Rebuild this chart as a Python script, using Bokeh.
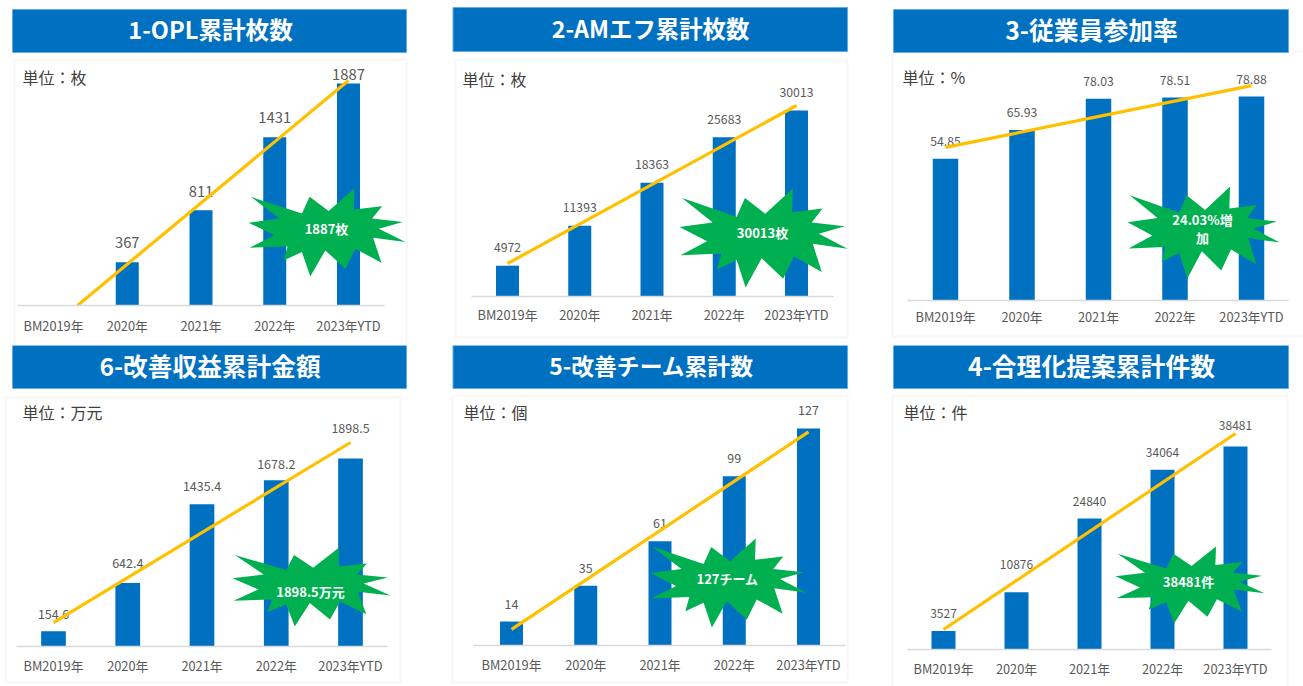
from bokeh.embed import file_html
from bokeh.resources import INLINE
from bokeh.layouts import column, row
from bokeh.models import BoxAnnotation, FixedTicker, Range1d
from bokeh.plotting import figure
from bokeh.core.properties import value

# Category labels shared by every chart
categories = ["BM2019年", "2020年", "2021年", "2022年", "2023年YTD"]

# Yearly totals per chart
opl_values = [None, 367, 811, 1431, 1887]
am_values = [4972, 11393, 18363, 25683, 30013]
participation_values = [54.85, 65.93, 78.03, 78.51, 78.88]
saving_values = [154.6, 642.4, 1435.4, 1678.2, 1898.5]
team_values = [14, 35, 61, 99, 127]
proposal_values = [3527, 10876, 24840, 34064, 38481]

# Start and end of each trend line; the OPL line rises from the baseline
opl_trend = [0, 1913]
am_trend = [5323, 30806]
participation_trend = [59.2, 83.1]
saving_trend = [242, 2060]
team_trend = [9.4, 125]
proposal_trend = [3790, 40950]

# Outline of the starburst callout, relative to its bounding box
BURST = [(752, 590), (905, 640), (928, 590), (985, 632), (1062, 565), (1060, 628),
         (1145, 618), (1115, 655), (1207, 665), (1135, 685), (1215, 725), (1118, 712),
         (1143, 787), (1065, 745), (1035, 805), (975, 750), (930, 828), (905, 755),
         (850, 780), (862, 738), (748, 742), (822, 705), (745, 667), (838, 655)]

FONT = "Noto Sans CJK JP"
BLUE = "#0070C0"
GREY_TEXT = "#595959"

ROW_H = [345, 341]
COL_W = [440, 440, 423]
COL_X = [0, 440, 880]
ROW_Y = [0, 345]

panels = [
    dict(cell=(0, 0), title="1-OPL累計枚数", title_px=23.6, unit="単位：枚", values=opl_values, trend=opl_trend,
         trend_x=(0.325, 4),
         banner=(12, 406, 9, 52), title_c=(210, 30), box=(14, 406, 59, 350), unit_xy=(23, 78),
         axis_y=305, axis_x=(17, 384), ctr=(53, 348), bar_w=23, px_per=0.1176, tick_off=21, label_px=14.8,
         offs=[0, 19, 18, 19, 8], burst=(248, 405, 188, 276),
         burst_text=[("1887枚", 326, 229)]),
    dict(cell=(1, 0), title="2-AMエフ累計枚数", title_px=23.4, unit="単位：枚", values=am_values, trend=am_trend,
         trend_x=(0, 4),
         banner=(452.5, 847, 7, 51), title_c=(650, 29), box=(455, 847, 60, 337), unit_xy=(463, 80),
         axis_y=296, axis_x=(471, 833), ctr=(507, 796), bar_w=23, px_per=0.0062, tick_off=19, label_px=12.2,
         offs=[17, 17, 17, 17, 17], burst=(679, 847, 188, 287),
         burst_text=[("30013枚", 762, 233)]),
    dict(cell=(2, 0), title="3-従業員参加率", title_px=24.8, unit="単位：%", values=participation_values,
         trend=participation_trend, trend_x=(0, 4),
         banner=(893, 1288, 9, 52), title_c=(1091, 30), box=(892, 1310, 51, 336), unit_xy=(903, 78),
         axis_y=300, axis_x=(907, 1288), ctr=(945, 1251), bar_w=25.5, px_per=2.586, tick_off=17, label_px=12.2,
         offs=[16, 17, 16, 16, 16], burst=(1127, 1279, 186, 278),
         burst_text=[("24.03%増", 1202, 220), ("加", 1202, 238)]),
    dict(cell=(0, 1), title="6-改善収益累計金額", title_px=24.7, unit="単位：万元", values=saving_values, trend=saving_trend,
         trend_x=(0, 4),
         banner=(12, 406, 345, 388), title_c=(209.5, 366), box=(5, 400, 397, 682), unit_xy=(23, 413),
         axis_y=646, axis_x=(16, 387), ctr=(53, 350), bar_w=24.7, px_per=0.09903, tick_off=20, label_px=12.5,
         offs=[16, 19, 17, 15, 29], burst=(232, 390, 547, 626),
         burst_text=[("1898.5万元", 310, 592)]),
    dict(cell=(1, 1), title="5-改善チーム累計数", title_px=22.8, unit="単位：個", values=team_values, trend=team_trend,
         trend_x=(0, 4),
         banner=(452.5, 847, 345, 388), title_c=(651, 366), box=(452, 847, 395, 682), unit_xy=(464, 413),
         axis_y=645, axis_x=(473, 845), ctr=(511, 808), bar_w=23, px_per=1.709, tick_off=20, label_px=12.5,
         offs=[17, 17, 17, 17, 17], burst=(650, 806, 538, 627),
         burst_text=[("127チーム", 727, 579)]),
    dict(cell=(2, 1), title="4-合理化提案累計件数", title_px=24.8, unit="単位：件", values=proposal_values, trend=proposal_trend,
         trend_x=(0, 4),
         banner=(893, 1288, 345, 388), title_c=(1091, 366), box=(892, 1287, 395, 700), unit_xy=(904, 413),
         axis_y=649, axis_x=(907, 1271), ctr=(943, 1235), bar_w=24, px_per=0.005275, tick_off=20, label_px=12,
         offs=[16, 27, 16, 16, 20], burst=(1115, 1264, 546, 623),
         burst_text=[("38481件", 1188, 582)]),
]


def build(cfg):
    col, rw = cfg["cell"]
    ox, oy = COL_X[col], ROW_Y[rw]
    width, cell_h = COL_W[col], ROW_H[rw]
    base_h = cfg["axis_y"] - oy
    per = cfg["px_per"]

    # The frame fills the whole cell, with value 0 sitting on the axis line
    step = (cfg["ctr"][1] - cfg["ctr"][0]) / 4
    c0 = cfg["ctr"][0] - ox
    x_range = Range1d(-c0 / step, (width - c0) / step)
    y_range = Range1d(-(cell_h - base_h) / per, base_h / per)

    def dx(px):
        return (px - ox - c0) / step

    def dy(py):
        return (cfg["axis_y"] - py) / per

    p = figure(frame_width=width, frame_height=cell_h, x_range=x_range, y_range=y_range,
               output_backend="svg", toolbar_location=None, y_axis_location=None,
               min_border_left=0, min_border_right=0, min_border_top=0, min_border_bottom=0,
               background_fill_color="white", border_fill_color="white", outline_line_color=None)
    p.grid.visible = False

    # Category axis pinned to the zero line
    ax = p.xaxis[0]
    ax.fixed_location = 0
    ax.ticker = FixedTicker(ticks=list(range(5)))
    ax.major_label_overrides = {i: c for i, c in enumerate(categories)}
    ax.major_tick_line_color = None
    ax.minor_tick_line_color = None
    ax.major_tick_out = 0
    ax.major_tick_in = 0
    ax.minor_tick_out = 0
    ax.axis_line_color = "#D9D9D9"
    ax.axis_line_width = 1.5
    ax.bounds = (dx(cfg["axis_x"][0]), dx(cfg["axis_x"][1]))
    ax.major_label_text_font = FONT
    ax.major_label_text_font_size = "12.8px"
    ax.major_label_text_color = GREY_TEXT
    ax.major_label_standoff = cfg["tick_off"] - 11

    # Panel outline and title banner
    l, r, t, b = cfg["box"]
    p.add_layout(BoxAnnotation(left=dx(l), right=dx(r), top=dy(t), bottom=dy(b), fill_alpha=0,
                               line_color="#E4E4E4", line_width=2, level="underlay",
                               editable=False))
    l, r, t, b = cfg["banner"]
    p.quad(left=[dx(l)], right=[dx(r)], top=[dy(t)], bottom=[dy(b)], fill_color=BLUE,
           line_color="#5FAEE8", line_width=1)
    p.text(x=[dx(cfg["title_c"][0])], y=[dy(cfg["title_c"][1] - 1.5)], text=[cfg["title"]],
           text_font=value(FONT), text_font_style="bold", text_font_size=f"{cfg['title_px']}px",
           text_color="white", text_align="center", text_baseline="middle")
    p.text(x=[dx(cfg["unit_xy"][0] - 1)], y=[dy(cfg["unit_xy"][1] - 1.5)], text=[cfg["unit"]],
           text_font=value(FONT), text_font_size="16px", text_color="#404040",
           text_align="left", text_baseline="middle")

    # Bars, value labels and trend line
    idx = [i for i, v in enumerate(cfg["values"]) if v is not None]
    vals = [cfg["values"][i] for i in idx]
    p.vbar(x=idx, top=vals, bottom=0, width=cfg["bar_w"] / step, fill_color=BLUE, line_color=None)
    p.text(x=idx, y=vals, text=[str(v) for v in vals],
           y_offset=[-cfg["offs"][i] - 1 for i in idx],
           text_font=value(FONT), text_font_size=f"{cfg['label_px']}px", text_color=GREY_TEXT,
           text_align="center", text_baseline="middle")
    p.line(x=list(cfg["trend_x"]), y=cfg["trend"], line_color="#FFC000", line_width=3.2)

    # Starburst callout
    xs0 = [v[0] for v in BURST]
    ys0 = [v[1] for v in BURST]
    bl, br, bt, bb = cfg["burst"]
    p.patch(x=[dx(bl + (x - min(xs0)) / (max(xs0) - min(xs0)) * (br - bl)) for x in xs0],
            y=[dy(bt + (y - min(ys0)) / (max(ys0) - min(ys0)) * (bb - bt)) for y in ys0],
            fill_color="#00B050", line_color=None)
    for txt, tx, ty in cfg["burst_text"]:
        p.text(x=[dx(tx)], y=[dy(ty - 1)], text=[txt], text_font=value(FONT), text_font_style="bold",
               text_font_size="13px", text_color="white", text_align="center",
               text_baseline="middle")
    return p


figs = [build(c) for c in panels]
page = column(row(*figs[:3], spacing=0), row(*figs[3:], spacing=0), spacing=0)
open("out.html", "w").write(file_html(page, INLINE))
